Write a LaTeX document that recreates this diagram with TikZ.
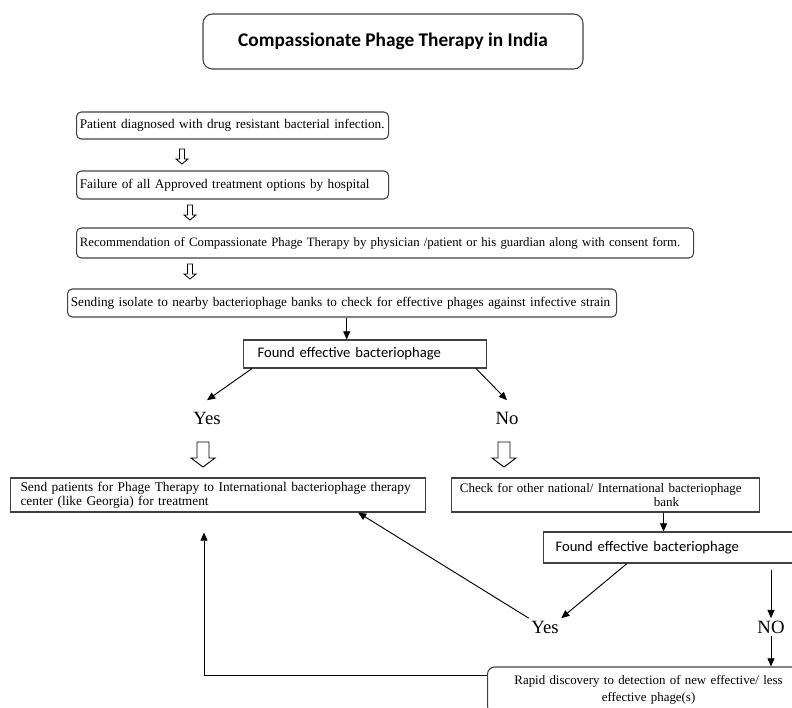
\documentclass[tikz,border=0pt]{standalone}
\usepackage{fontspec}
\setmainfont{Liberation Serif}
\newfontfamily\calibri{Carlito}
\usetikzlibrary{arrows.meta}
\definecolor{boxgray}{RGB}{64, 64, 64}

\tikzset{
  stepbox/.style={draw=boxgray, line width=0.9pt, rounded corners=4pt, anchor=west, inner xsep=0.1cm, inner ysep=0pt, align=left, font=\fontsize{11.3}{13}\selectfont},
  flatbox/.style={stepbox, rounded corners=0pt},
  answer/.style={font=\fontsize{16}{18}\selectfont, inner sep=2pt},
  arr/.style={-{Triangle[length=7pt,width=6pt]}, line width=0.8pt},
  smalldown/.pic={\draw[line width=0.7pt] (-2.5,0) -- (2.5,0) -- (2.5,10) -- (6,10) -- (0,15) -- (-6,10) -- (-2.5,10) -- cycle;},
  bigdown/.pic={\draw[line width=0.8pt] (-6,0) -- (6,0) -- (6,16) -- (12,16) -- (0,25) -- (-12,16) -- (-6,16) -- cycle;}
}

\begin{document}
\begin{tikzpicture}[x=0.03cm, y=-0.03cm]
  \useasboundingbox (0,0) rectangle (792,708);
  \clip (0,0) rectangle (792,708);

  % Title
  \node[draw=boxgray, line width=0.9pt, rounded corners=8pt, minimum width=11.4cm, minimum height=1.65cm, font=\calibri\bfseries\fontsize{16.5}{18}\selectfont] (title) at (393,41.5) {Compassionate Phage Therapy in India};

  % Steps before the phage search
  \node[stepbox, text width=9.16cm, minimum height=0.81cm] (patient) at (76,125.5) {Patient diagnosed with drug resistant bacterial infection.};
  \pic at (182,149) {smalldown};
  \node[stepbox, text width=9.16cm, minimum height=0.84cm] (failure) at (76,185) {Failure of all Approved treatment options by hospital};
  \pic at (190,205) {smalldown};
  \node[stepbox, text width=18.31cm, minimum height=0.9cm, font=\fontsize{10.9}{13}\selectfont] (recommend) at (76,243) {Recommendation of Compassionate Phage Therapy by physician /patient or his guardian along with consent form.};
  \pic at (190,264) {smalldown};
  \node[stepbox, text width=16.27cm, minimum height=0.84cm] (isolate) at (67,303) {Sending isolate to nearby bacteriophage banks to check for effective phages against infective strain};

  % First search
  \node[flatbox, inner xsep=0.42cm, text width=6.45cm, minimum height=0.84cm, font=\calibri\fontsize{12.5}{14}\selectfont] (found) at (243,354) {Found effective bacteriophage};
  \draw[arr] ([xshift=0.14cm]isolate.south) -- ([xshift=0.14cm]isolate.south |- found.north);

  \node[answer] (yesA) at (207,418) {Yes};
  \node[answer] (noA) at (507,418) {No};
  \draw[arr] ([xshift=0.27cm]found.south west) -- ([yshift=0.27cm]yesA.north);
  \draw[arr] ([xshift=-0.33cm]found.south east) -- ([yshift=0.27cm]noA.north);
  \pic at (203,442) {bigdown};
  \pic at (504,442) {bigdown};

  \node[flatbox, inner xsep=0.3cm, text width=11.85cm, minimum height=1.02cm, font=\fontsize{11.4}{11.6}\selectfont] (abroad) at (10,495) {Send patients for Phage Therapy to International bacteriophage therapy\\center (like Georgia) for treatment};
  \node[flatbox, inner xsep=0.25cm, text width=8.74cm, minimum height=1.02cm, font=\fontsize{11.1}{12}\selectfont] (otherbank) at (451,495) {Check for other national/ International bacteriophage\\\hspace*{5.82cm}bank};

  % Second search
  \node[flatbox, inner xsep=0.36cm, text width=6.84cm, minimum height=0.93cm, font=\calibri\fontsize{12.5}{14}\selectfont] (foundagain) at (543,547.5) {Found effective bacteriophage};
  \draw[arr] ([xshift=1.74cm]otherbank.south) -- ([xshift=1.74cm]otherbank.south |- foundagain.north);

  \node[answer] (yesB) at (545,627) {Yes};
  \node[answer] (noB) at (771,627) {NO};
  \node[stepbox, rounded corners=6pt, align=center, text width=9.46cm, minimum height=1.38cm, font=\fontsize{11}{14.5}\selectfont] (rapid) at (487,690) {Rapid discovery to detection of new effective/ less\\effective phage(s)};

  \draw[arr] ([xshift=2.52cm]foundagain.south west) -- (yesB.north east);
  \draw[arr] (yesB.north west) -- ([xshift=4.2cm]abroad.south);
  \draw[arr] ([yshift=-0.18cm]foundagain.south -| noB) -- (noB.north);
  \draw[arr] (noB.south) -- (noB.south |- rapid.north);
  \draw[arr] ([yshift=0.45cm]rapid.west) -| ([xshift=5.82cm,yshift=-0.6cm]abroad.south west);
\end{tikzpicture}
\end{document}
